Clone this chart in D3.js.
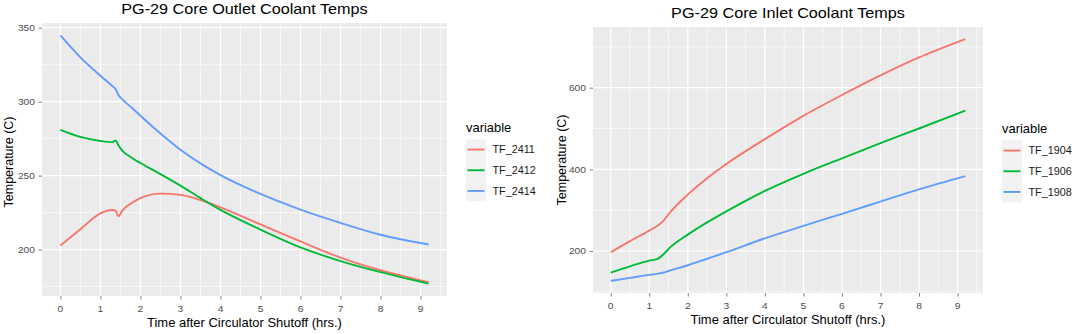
<!DOCTYPE html>
<html lang="en">

<head>
  <meta charset="UTF-8">
  <title>PG-29 Core Coolant Temps</title>
  <script src="https://d3js.org/d3.v7.min.js"></script>
  <style>
    body {
      margin: 0;
      background: white;
    }

    svg {
      display: block;
      font-family: "Liberation Sans", Arial, sans-serif;
    }
  </style>
</head>

<body>
  <div id="chart"></div>
  <script>

    // outlet panel (left)
    const outletTime = [0, 0.5, 1, 1.3, 1.38, 1.45, 1.55, 1.8, 2, 2.5, 3, 3.5, 4, 5, 6, 7, 8, 9.2]
    const tf2411 = [202.8, 213.8, 224.5, 226.8, 226.3, 222.5, 226.5, 231.8, 234.8, 237.8, 237, 233.5, 228.5, 217, 205.5, 194.6, 186, 177.9]
    const tf2412 = [281, 276.2, 273.4, 272.6, 273.8, 270.5, 266.8, 261.8, 258.5, 251, 243.2, 234.8, 226.8, 213.5, 201.5, 192.2, 184.7, 177]
    const tf2414 = [344.8, 330, 317.5, 310.5, 308.5, 304.5, 301.5, 295.5, 290.5, 278.5, 267.5, 258.3, 250.3, 237.6, 227, 218, 210, 203.4]
    const outletNames = ['TF_2411', 'TF_2412', 'TF_2414']
    const outletYTicks = [200, 250, 300, 350]

    // inlet panel (right)
    const inletTime = [0, 0.5, 1, 1.2, 1.38, 1.5, 2, 2.5, 3, 4, 5, 6, 7, 8, 9.2]
    const tf1904 = [196.6, 224, 250, 261, 275, 290, 338, 378, 413, 474, 531, 582, 630, 674, 719]
    const tf1906 = [147.2, 162.5, 176.5, 180, 193, 205, 240, 270, 297, 347, 389, 427, 464, 500, 544]
    const tf1908 = [126.7, 134, 141.5, 144, 147.2, 151, 165, 181, 197, 231, 261.5, 291, 321, 351, 383.5]
    const inletNames = ['TF_1904', 'TF_1906', 'TF_1908']
    const inletYTicks = [200, 400, 600]

    const xTicks = [0, 1, 2, 3, 4, 5, 6, 7, 8, 9]
    const colors = ['#F8766D', '#00BA38', '#619CFF']

    const width = 1072
    const height = 334
    const SX = 1.08 // the source picture is stretched a little sideways

    const svg = d3.select('#chart')
      .append('svg')
      .attr('width', width)
      .attr('height', height)

    function label(g, x, y, s, size, anchor, fill, rotate) {
      return g.append('text')
        .attr('transform', `translate(${x},${y}) scale(${SX},1)` + (rotate ? ' rotate(-90)' : ''))
        .attr('text-anchor', anchor)
        .attr('font-size', size)
        .attr('fill', fill)
        .text(s)
    }

    // ggplot style 5% expansion of the data range
    function expanded(vals) {
      const [lo, hi] = d3.extent(vals)
      const pad = (hi - lo) * 0.05
      return [lo - pad, hi + pad]
    }

    function drawPanel(p) {
      const g = svg.append('g')
      const x = d3.scaleLinear().domain(expanded(p.time)).range([p.left, p.right])
      const y = d3.scaleLinear().domain(expanded(p.series.flat())).range([p.bottom, p.top])

      g.append('rect')
        .attr('x', p.left)
        .attr('y', p.top)
        .attr('width', p.right - p.left)
        .attr('height', p.bottom - p.top)
        .attr('fill', '#EBEBEB')

      // minor grid halfway between breaks
      const yStep = p.yTicks[1] - p.yTicks[0]
      const yMinor = d3.range(p.yTicks[0] - yStep / 2, y.domain()[1], yStep)
        .filter(d => d > y.domain()[0])
      const xMinor = d3.range(-0.5, x.domain()[1], 1).filter(d => d > x.domain()[0])

      g.selectAll('.ymin').data(yMinor).enter().append('line')
        .attr('x1', p.left).attr('x2', p.right)
        .attr('y1', d => y(d)).attr('y2', d => y(d))
        .attr('stroke', 'white').attr('stroke-width', 0.6)
      g.selectAll('.xmin').data(xMinor).enter().append('line')
        .attr('y1', p.top).attr('y2', p.bottom)
        .attr('x1', d => x(d)).attr('x2', d => x(d))
        .attr('stroke', 'white').attr('stroke-width', 0.6)
      g.selectAll('.ymaj').data(p.yTicks).enter().append('line')
        .attr('x1', p.left).attr('x2', p.right)
        .attr('y1', d => y(d)).attr('y2', d => y(d))
        .attr('stroke', 'white').attr('stroke-width', 1.2)
      g.selectAll('.xmaj').data(xTicks).enter().append('line')
        .attr('y1', p.top).attr('y2', p.bottom)
        .attr('x1', d => x(d)).attr('x2', d => x(d))
        .attr('stroke', 'white').attr('stroke-width', 1.2)

      const line = d3.line()
        .x(d => x(d[0]))
        .y(d => y(d[1]))
        .curve(d3.curveMonotoneX)

      p.series.forEach((vals, i) => {
        g.append('path')
          .datum(p.time.map((t, j) => [t, vals[j]]))
          .attr('d', line)
          .attr('fill', 'none')
          .attr('stroke', colors[i])
          .attr('stroke-width', 1.9)
      })

      // axes
      g.append('g')
        .attr('transform', `translate(0,${p.bottom})`)
        .call(d3.axisBottom(x).tickValues(xTicks).tickSize(3.5).tickFormat(''))
        .call(a => a.select('.domain').remove())
        .call(a => a.selectAll('line').attr('stroke', '#333').attr('stroke-width', 0.6))
      g.append('g')
        .attr('transform', `translate(${p.left},0)`)
        .call(d3.axisLeft(y).tickValues(p.yTicks).tickSize(3.5).tickFormat(''))
        .call(a => a.select('.domain').remove())
        .call(a => a.selectAll('line').attr('stroke', '#333').attr('stroke-width', 0.6))

      xTicks.forEach(t => label(g, x(t), p.bottom + 16, t, 9.5, 'middle', '#4D4D4D'))
      p.yTicks.forEach(v => label(g, p.left - 7, y(v) + 3.4, v, 9.5, 'end', '#4D4D4D'))

      const cx = (p.left + p.right) / 2
      label(g, cx, p.titleY, p.title, 15, 'middle', '#000')
      label(g, cx, p.bottom + 30.5, 'Time after Circulator Shutoff (hrs.)', 12, 'middle', '#000')
      label(g, p.yTitleX, p.yTitleMid, 'Temperature (C)', 12.5, 'middle', '#000', true)

      // legend
      const keyH = 20.7
      label(g, p.legX, p.legY, 'variable', 12, 'start', '#000')
      g.append('rect')
        .attr('x', p.legX).attr('y', p.legY + 7.5)
        .attr('width', 20).attr('height', keyH * 3)
        .attr('fill', '#F2F2F2')
      p.names.forEach((n, i) => {
        const ky = p.legY + 7.5 + keyH * (i + 0.5)
        g.append('line')
          .attr('x1', p.legX + 1.5).attr('x2', p.legX + 18.5)
          .attr('y1', ky).attr('y2', ky)
          .attr('stroke', colors[i]).attr('stroke-width', 1.9)
        label(g, p.legX + 26.5, ky + 3.6, n, 10, 'start', '#1A1A1A')
      })
    }

    drawPanel({
      title: 'PG-29 Core Outlet Coolant Temps',
      time: outletTime,
      series: [tf2411, tf2412, tf2414],
      names: outletNames,
      yTicks: outletYTicks,
      left: 42, right: 447, top: 23, bottom: 296,
      titleY: 13.5, yTitleX: 13, yTitleMid: 162,
      legX: 466, legY: 131.7
    })

    drawPanel({
      title: 'PG-29 Core Inlet Coolant Temps',
      time: inletTime,
      series: [tf1904, tf1906, tf1908],
      names: inletNames,
      yTicks: inletYTicks,
      left: 593, right: 983, top: 27, bottom: 293,
      titleY: 18, yTitleX: 566, yTitleMid: 160,
      legX: 1002, legY: 132.7
    })

  </script>
</body>

</html>
